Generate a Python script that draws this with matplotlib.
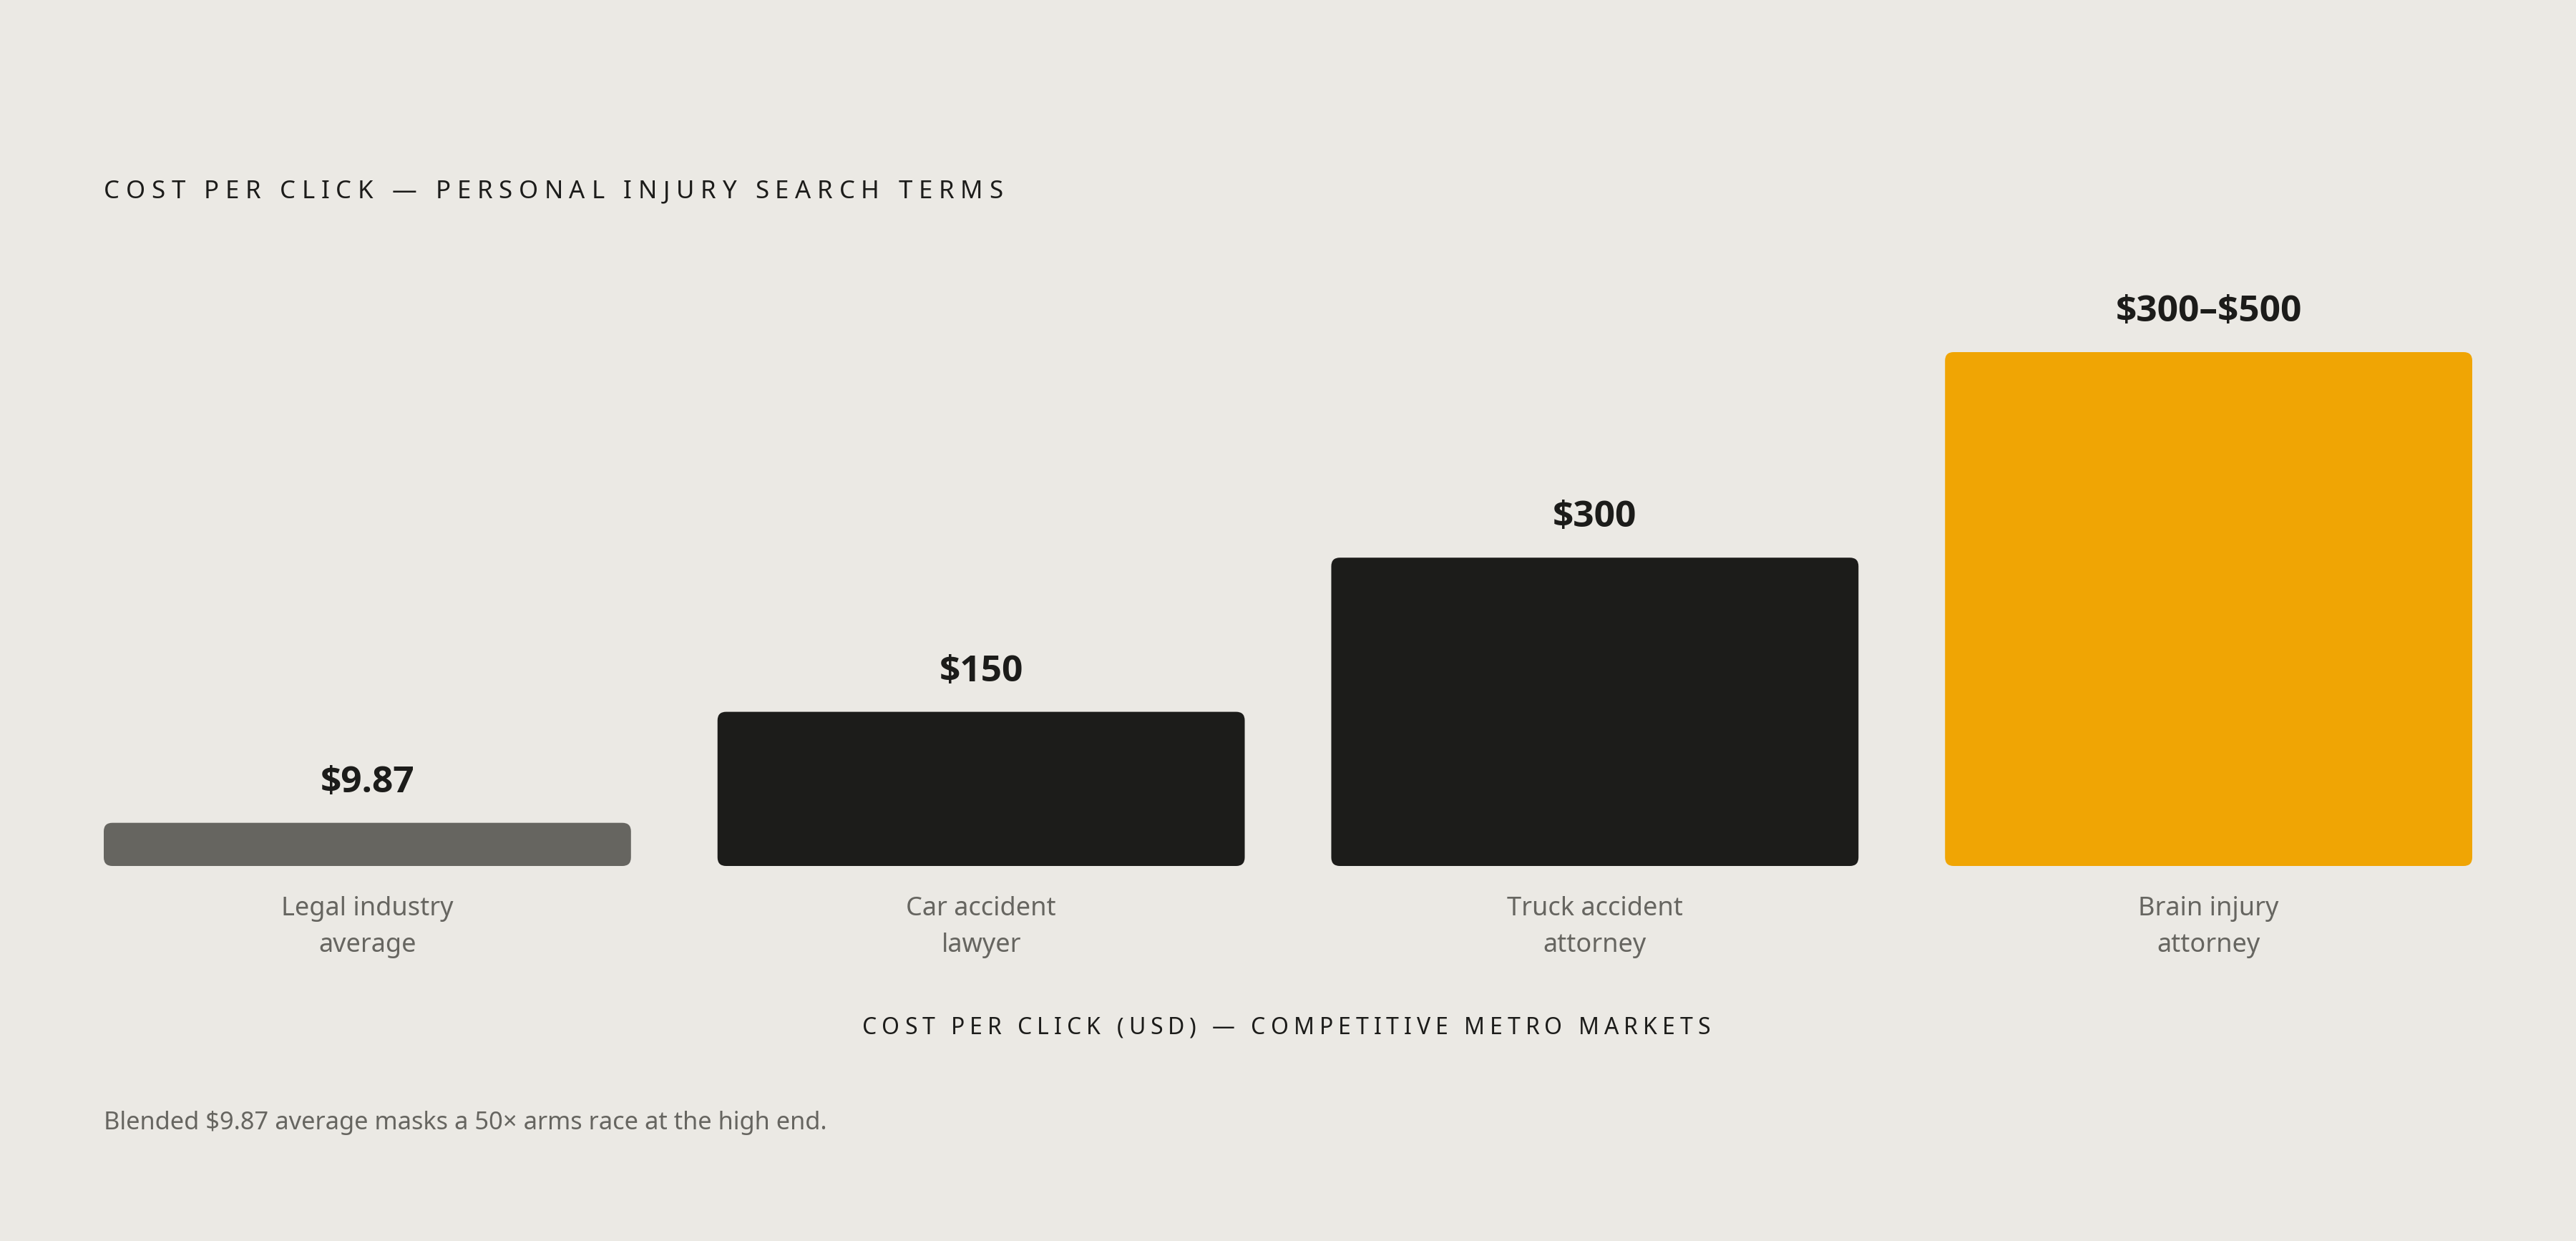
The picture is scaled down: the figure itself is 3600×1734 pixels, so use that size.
import matplotlib
matplotlib.use("Agg")
import matplotlib.pyplot as plt
from matplotlib.patches import FancyBboxPatch
from matplotlib.font_manager import FontProperties

# data
categories = ["Legal industry\naverage", "Car accident\nlawyer",
              "Truck accident\nattorney", "Brain injury\nattorney"]
cpc_values = [9.87, 150, 300, 500]
value_labels = ["$9.87", "$150", "$300", "$300\u2013$500"]
bar_colors = ["#666560", "#1c1c1a", "#1c1c1a", "#f0a504"]
min_visible = 42  # smallest bar shown so the $9.87 bar stays visible

title = "COST PER CLICK \u2014 PERSONAL INJURY SEARCH TERMS"
axis_title = "COST PER CLICK (USD) \u2014 COMPETITIVE METRO MARKETS"
footnote = "Blended $9.87 average masks a 50\u00d7 arms race at the high end."

BG = "#ebe9e4"
INK = "#1c1c1a"
GREY = "#666560"
FONT = "Noto Sans"
BOLD_FONT = "Open Sans"

W, H, DPI = 3600, 1734, 200
fig = plt.figure(figsize=(W / DPI, H / DPI), dpi=DPI, facecolor=BG)
renderer = fig.canvas.get_renderer()


def fx(px):
    return px / W


def fy(py):
    return 1 - py / H


def spaced_text(s, x_left, y_base, target_w, size, color):
    fp = FontProperties(family=FONT, size=size)

    def width(t):
        return renderer.get_text_width_height_descent(t, fp, ismath=False)[0]

    def adv(t):
        return width("I" + t + "I") - width("II")

    natural = adv(s)
    track = (target_w - natural) / (len(s) - 1)
    for i, ch in enumerate(s):
        if ch == " ":
            continue
        x = x_left + adv(s[:i]) + i * track
        fig.text(fx(x), fy(y_base), ch, fontproperties=fp, color=color,
                 ha="left", va="baseline")


# axes placed so bars span 145..3455 px and baseline at 1210 px
ymax = 520
px_per_usd = 1.436
ax_left, ax_right, ax_base = 145, 3455, 1210
ax_top = ax_base - ymax * px_per_usd
ax = fig.add_axes([fx(ax_left), fy(ax_base), fx(ax_right - ax_left),
                   (ax_base - ax_top) / H])
ax.set_facecolor(BG)
bar_w = 0.859
ax.set_xlim(-bar_w / 2, len(categories) - 1 + bar_w / 2)
ax.set_ylim(0, ymax)
ax.axis("off")

heights = [max(v, min_visible) for v in cpc_values]
bars = ax.bar(range(len(categories)), heights, width=bar_w, color=bar_colors)

# swap plain rectangles for rounded ones
x_per_px = (len(categories) - 1 + bar_w) / (ax_right - ax_left)
y_per_px = 1 / px_per_usd
radius = 12 * x_per_px
for rect in bars:
    x, y = rect.get_x(), rect.get_y()
    w, h = rect.get_width(), rect.get_height()
    patch = FancyBboxPatch((x, y), w, h,
                           boxstyle=f"round,pad=0,rounding_size={radius}",
                           mutation_aspect=y_per_px / x_per_px,
                           facecolor=rect.get_facecolor(), edgecolor="none")
    ax.add_patch(patch)
    rect.remove()

for i, (h, lab) in enumerate(zip(heights, value_labels)):
    ax.annotate(lab, xy=(i, h), xytext=(0, 43 * 72 / DPI),
                textcoords="offset points", ha="center", va="baseline",
                fontsize=18.5, fontweight="bold", family=BOLD_FONT,
                color=INK, parse_math=False)
    for j, line in enumerate(categories[i].split("\n")):
        ax.annotate(line, xy=(i, 0), xytext=(0, -(69 + 51 * j) * 72 / DPI),
                    textcoords="offset points", ha="center", va="baseline",
                    fontsize=13, family=FONT, color=GREY)

spaced_text(title, 145, 277, 1256, 12.5, INK)
spaced_text(axis_title, 1205, 1445, 1185, 11.5, INK)
fig.text(fx(145), fy(1578), footnote, family=FONT, fontsize=12.4,
         color=GREY, ha="left", va="baseline", parse_math=False)

fig.savefig("out.png", dpi=DPI, facecolor=BG)
